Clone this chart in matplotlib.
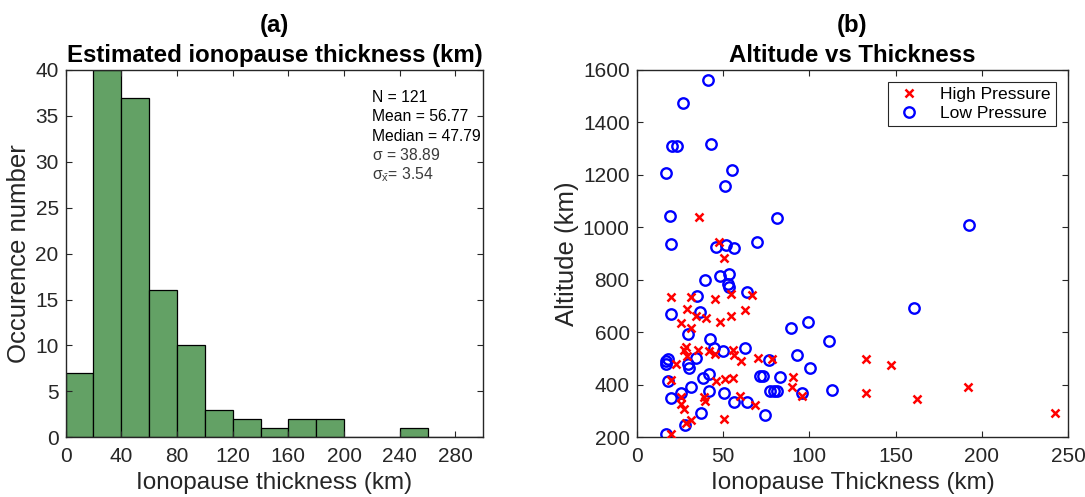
import matplotlib.pyplot as plt
import numpy as np

plt.rcParams['font.family'] = ['Liberation Sans', 'DejaVu Sans']
plt.rcParams['mathtext.fontset'] = 'custom'
plt.rcParams['mathtext.rm'] = 'Liberation Sans'
plt.rcParams['mathtext.it'] = 'Liberation Sans'

# histogram of thickness, 20 km bins
bin_edges = np.arange(0, 320, 20)
counts = [7, 40, 37, 16, 10, 3, 2, 1, 2, 2, 0, 0, 1, 0, 0]
stats_lines = ['N = 121', 'Mean = 56.77', 'Median = 47.79',
               r'$\mathrm{\sigma}$ = 38.89', r'$\mathrm{\sigma_{\bar{x}}}$= 3.54']

# thickness (km) vs altitude (km)
high_thick = [35.9, 47.5, 50.4, 132.6, 147.5, 132.6, 162.2, 192.0, 242.5,
              20.1, 31.3, 54.6, 66.9, 45.4, 28.9, 62.6, 34.2, 40.2, 54.6, 25.9, 48.5, 31.7,
              28.4, 27.3, 35.3, 29.0, 41.7, 45.6, 56.0, 56.6, 60.4, 70.5, 78.6, 22.6,
              20.1, 45.9, 51.1, 56.0, 90.4, 89.8, 95.6,
              25.9, 38.9, 39.5, 59.8, 25.9, 27.3, 68.5, 31.3, 28.6, 50.8, 20.1]
high_alt = [1038, 945, 882, 497, 475, 369, 345, 391, 294,
            735, 735, 745, 743, 729, 689, 687, 662, 655, 662, 636, 640, 617,
            544, 532, 534, 509, 529, 517, 534, 512, 490, 502, 500, 481,
            420, 414, 421, 425, 430, 392, 356,
            354, 354, 337, 357, 326, 306, 322, 267, 256, 271, 211]

low_thick = [41.1, 26.8, 20.6, 23.5, 42.8, 17.0, 55.4, 51.3, 19.3, 81.1,
             20.1, 45.9, 51.6, 56.4, 69.5, 192.5, 160.4, 111.6, 112.9,
             39.6, 48.3, 53.5, 52.7, 53.3, 63.8, 34.9, 19.7, 36.8, 29.9, 89.4, 99.1,
             42.4, 44.9, 50.1, 62.7, 18.1, 17.2, 16.8, 29.9, 30.3, 34.2, 76.8, 93.0, 100.6,
             38.5, 41.8, 71.5, 73.0, 82.9, 18.1, 31.7, 19.7, 25.6, 41.7, 50.8, 56.4, 63.8,
             77.1, 79.4, 81.5, 95.6, 37.1, 74.3, 27.8, 17.1]
low_alt = [1562, 1473, 1311, 1310, 1319, 1206, 1218, 1156, 1043, 1034,
           935, 924, 932, 921, 943, 1010, 693, 567, 379,
           799, 814, 824, 786, 771, 754, 739, 669, 678, 593, 617, 641,
           575, 542, 529, 542, 500, 490, 478, 481, 466, 504, 496, 515, 466,
           426, 441, 433, 433, 428, 415, 391, 350, 369, 377, 369, 335, 333,
           375, 375, 377, 370, 294, 285, 247, 214]

fig = plt.figure(figsize=(10.85, 4.97), dpi=100)
ax1 = fig.add_axes([0.0605, 0.1201, 0.3849, 0.7391])
ax2 = fig.add_axes([0.5868, 0.1201, 0.3978, 0.7391])

axcol = '#262626'
for ax in (ax1, ax2):
    for sp in ax.spines.values():
        sp.set_color(axcol)
        sp.set_linewidth(1.0)
    ax.tick_params(direction='in', top=True, right=True, length=4,
                   labelsize=15, colors=axcol, width=0.8)
    ax.tick_params(axis='x', pad=7)
    ax.tick_params(axis='y', pad=5)

# (a) histogram
ax1.bar(bin_edges[:-1], counts, width=20, align='edge', color='#63a165',
        edgecolor='black', linewidth=0.9)
ax1.set_xlim(0, 300)
ax1.set_ylim(0, 40)
ax1.set_xticks(np.arange(0, 300, 40))
ax1.set_yticks(np.arange(0, 45, 5))
ax1.set_xlabel('Ionopause thickness (km)', fontsize=17.5, color=axcol, labelpad=4)
ax1.set_ylabel('Occurence number', fontsize=18.5, color=axcol, labelpad=3)
ax1.set_title('(a)\nEstimated ionopause thickness (km)', fontsize=17.3,
              fontweight='bold', linespacing=1.4, pad=5.5)
for i, s in enumerate(stats_lines):
    c = 'black' if i < 3 else '#3a3a3a'
    ax1.text(0.733, 0.925 - 0.0525 * i, s, transform=ax1.transAxes,
             fontsize=11.3, va='center', ha='left', color=c)

# (b) scatter
ax2.plot(high_thick, high_alt, 'x', color='red', markersize=5.5,
         markeredgewidth=1.8, label='High Pressure', zorder=3)
ax2.plot(low_thick, low_alt, 'o', color='blue', markerfacecolor='none',
         markersize=7.5, markeredgewidth=1.7, label='Low Pressure', zorder=2)
ax2.set_xlim(0, 250)
ax2.set_ylim(200, 1600)
ax2.set_xticks(np.arange(0, 300, 50))
ax2.set_yticks(np.arange(200, 1800, 200))
ax2.set_xlabel('Ionopause Thickness (km)', fontsize=17.5, color=axcol, labelpad=4)
ax2.set_ylabel('Altitude (km)', fontsize=18.5, color=axcol, labelpad=3)
ax2.set_title('(b)\nAltitude vs Thickness', fontsize=17.3,
              fontweight='bold', linespacing=1.4, pad=5.5)
leg = ax2.legend(loc='upper right', bbox_to_anchor=(0.9715, 0.968),
                 borderaxespad=0, fontsize=12.6, fancybox=False,
                 edgecolor=axcol, framealpha=1, handletextpad=0.9,
                 handlelength=1.8, borderpad=0.3, labelspacing=0.2)
leg.get_frame().set_linewidth(0.8)

fig.savefig('out.png', dpi=100)
